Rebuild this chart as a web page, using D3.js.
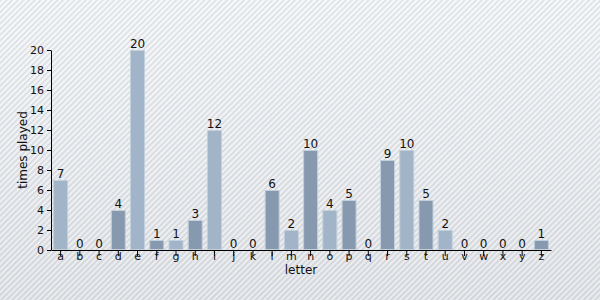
<!DOCTYPE html>
<meta charset="utf-8">
<style>
body { margin: 0; }
text { font-family: "DejaVu Sans", Verdana, sans-serif; }
</style>
<body>
<script src="https://d3js.org/d3.v7.min.js"></script>
<script>

var letters = ["a","b","c","d","e","f","g","h","i","j","k","l","m","n","o","p","q","r","s","t","u","v","w","x","y","z"];
var timesPlayed = [7,0,0,4,20,1,1,3,12,0,0,6,2,10,4,5,0,9,10,5,2,0,0,0,0,1];
var yTicks = [0,2,4,6,8,10,12,14,16,18,20];

var margin = {top: 50, right: 49, bottom: 50, left: 51},
    width = 600 - margin.left - margin.right,
    height = 300 - margin.top - margin.bottom;

var root = d3.select("body").append("svg")
    .attr("width", 600)
    .attr("height", 300);

// background: gradient with diagonal stripes
var defs = root.append("defs");
var grad = defs.append("linearGradient")
    .attr("id", "bg")
    .attr("x1", 0).attr("y1", 0).attr("x2", 0).attr("y2", 1);
grad.append("stop").attr("offset", "0%").attr("stop-color", "#f4f6f8");
grad.append("stop").attr("offset", "100%").attr("stop-color", "#e2e4e7");

var pat = defs.append("pattern")
    .attr("id", "stripes")
    .attr("width", 4).attr("height", 4)
    .attr("patternUnits", "userSpaceOnUse")
    .attr("patternTransform", "rotate(45)");
pat.append("rect")
    .attr("width", 1.5).attr("height", 4)
    .attr("fill", "#9aa6b4")
    .attr("fill-opacity", 0.28);
pat.append("rect")
    .attr("x", 2).attr("width", 1.5).attr("height", 4)
    .attr("fill", "#ffffff")
    .attr("fill-opacity", 0.35);

root.append("rect").attr("width", 600).attr("height", 300).attr("fill", "url(#bg)");
root.append("rect").attr("width", 600).attr("height", 300).attr("fill", "url(#stripes)");

var svg = root.append("g")
    .attr("transform", "translate(" + margin.left + "," + margin.top + ")");

var x = d3.scaleBand().domain(letters).range([0, width]).paddingInner(0.22).paddingOuter(0.11);
var y = d3.scaleLinear().domain([0, 20]).range([height, 0]);

var data = letters.map(function(l, i) { return {letter: l, value: timesPlayed[i], i: i}; });

svg.selectAll(".bar")
    .data(data)
    .enter().append("rect")
    .attr("class", "bar")
    .attr("x", function(d) { return x(d.letter) + 0.5; })
    .attr("width", x.bandwidth() - 1)
    .attr("y", function(d) { return y(d.value) + 0.5; })
    .attr("height", function(d) { return Math.max(0, height - y(d.value) - 1); })
    .attr("fill", function(d) { return d.i % 2 == 0 ? "#a1b4c8" : "#8699ae"; })
    .attr("stroke", "#c3d0dc")
    .attr("stroke-width", 1);

var xAxis = d3.axisBottom(x).tickSizeInner(6).tickSizeOuter(0).tickPadding(-4);
var yAxis = d3.axisLeft(y).tickValues(yTicks).tickSizeInner(4).tickSizeOuter(0).tickPadding(3);

var gX = svg.append("g")
    .attr("transform", "translate(0," + height + ")")
    .call(xAxis);
var gY = svg.append("g").call(yAxis);

[gX, gY].forEach(function(g) {
    g.selectAll("text").style("font-size", "11px").attr("fill", "#111")
        .style("font-family", "'DejaVu Sans', Verdana, sans-serif");
    g.selectAll("line").attr("stroke", "#000");
    g.select(".domain").attr("stroke", "#000");
});

svg.selectAll(".val")
    .data(data)
    .enter().append("text")
    .attr("class", "val")
    .attr("x", function(d) { return x(d.letter) + x.bandwidth() / 2; })
    .attr("y", function(d) { return y(d.value) - 2; })
    .attr("text-anchor", "middle")
    .style("font-size", "12px")
    .attr("fill", "#111")
    .text(function(d) { return d.value; });

svg.append("text")
    .attr("x", width / 2)
    .attr("y", height + 24)
    .attr("text-anchor", "middle")
    .style("font-size", "12px")
    .attr("fill", "#111")
    .text("letter");

svg.append("text")
    .attr("transform", "rotate(-90)")
    .attr("x", -height / 2)
    .attr("y", -24)
    .attr("text-anchor", "middle")
    .style("font-size", "12px")
    .attr("fill", "#111")
    .text("times played");

</script>
</body>
